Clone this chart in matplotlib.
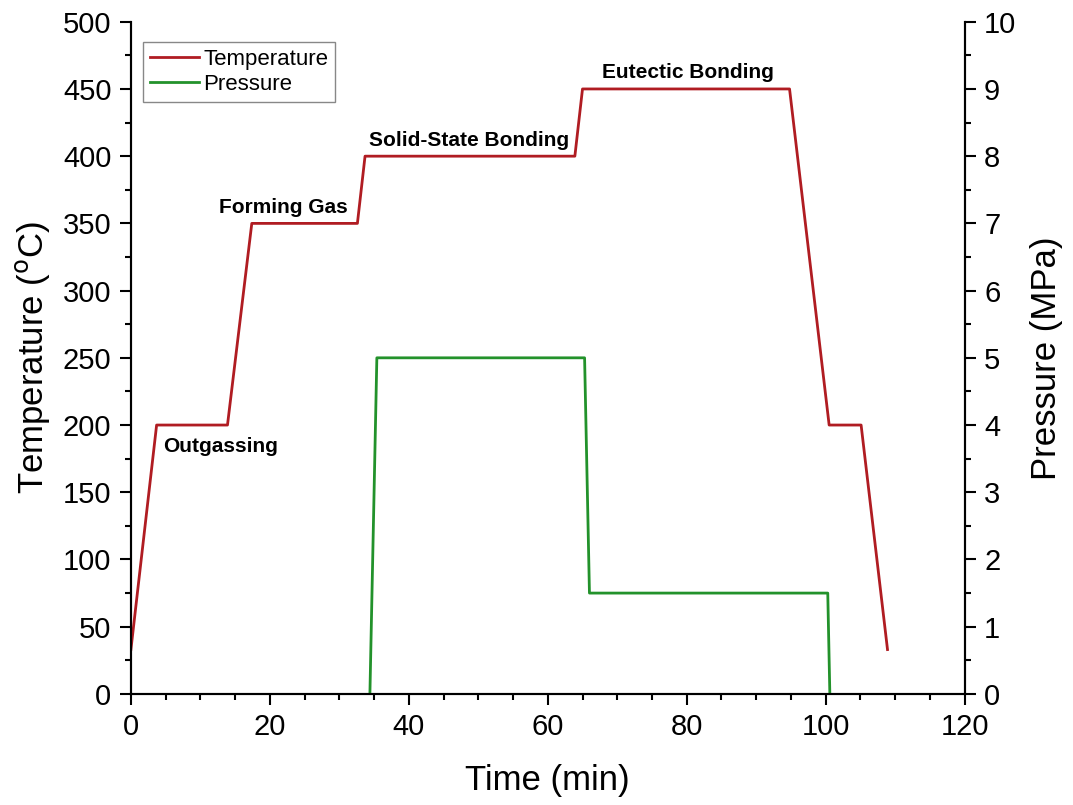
import numpy as np
import matplotlib.pyplot as plt
from matplotlib.ticker import MultipleLocator

plt.rcParams['font.family'] = ['Liberation Sans', 'DejaVu Sans']

# temperature profile (min, degC)
temp_t = [0, 3.7, 13.9, 17.4, 32.6, 33.7, 63.9, 65.0, 94.8, 100.5, 105.1, 108.9]
temp_v = [33, 200, 200, 350, 350, 400, 400, 450, 450, 200, 200, 33]

# pressure profile (min, MPa)
pres_t = [34.4, 35.4, 65.3, 66.0, 100.3, 100.6]
pres_v = [0, 5, 5, 1.5, 1.5, 0]

stage_names = ['Outgassing', 'Forming Gas', 'Solid-State Bonding', 'Eutectic Bonding']
stage_t = [4.6, 22.0, 48.6, 80.2]
stage_T = [184, 362, 412, 462]
stage_ha = ['left', 'center', 'center', 'center']

red = '#B01C22'
green = '#23922B'

fig = plt.figure(figsize=(10.73, 8.05), dpi=100)
ax = fig.add_axes([0.122, 0.138, 0.777, 0.835])
ax2 = ax.twinx()

l1, = ax.plot(temp_t, temp_v, color=red, lw=2, label='Temperature')
l2, = ax2.plot(pres_t, pres_v, color=green, lw=2, label='Pressure')

for name, t, T, ha in zip(stage_names, stage_t, stage_T, stage_ha):
    ax.text(t, T, name, ha=ha, va='center', fontsize=15, fontweight='bold')

ax.set_xlim(0, 120)
ax.set_ylim(0, 500)
ax2.set_ylim(0, 10)

ax.xaxis.set_major_locator(MultipleLocator(20))
ax.xaxis.set_minor_locator(MultipleLocator(5))
ax.yaxis.set_major_locator(MultipleLocator(50))
ax.yaxis.set_minor_locator(MultipleLocator(25))
ax2.yaxis.set_major_locator(MultipleLocator(1))
ax2.yaxis.set_minor_locator(MultipleLocator(0.5))

for a in (ax, ax2):
    a.spines['top'].set_visible(False)
    for s in a.spines.values():
        s.set_linewidth(1.5)
    a.tick_params(which='major', direction='out', length=8, width=1.5, labelsize=21, pad=6)
    a.tick_params(which='minor', direction='out', length=4, width=1.5)

ax.set_xlabel('Time (min)', fontsize=25, labelpad=16)
ax.set_ylabel('Temperature ($^{\\mathrm{o}}$C)', fontsize=25, labelpad=8)
ax2.set_ylabel('Pressure (MPa)', fontsize=25, labelpad=10)

leg = ax.legend(handles=[l1, l2], loc='upper left', bbox_to_anchor=(0.015, 0.97),
                fontsize=16, fancybox=False, framealpha=1, handlelength=2.2,
                borderpad=0.3, labelspacing=0.2, handletextpad=0.2, borderaxespad=0)
leg.get_frame().set_edgecolor('#888888')
leg.get_frame().set_linewidth(1)

fig.savefig('out.png', dpi=100)
